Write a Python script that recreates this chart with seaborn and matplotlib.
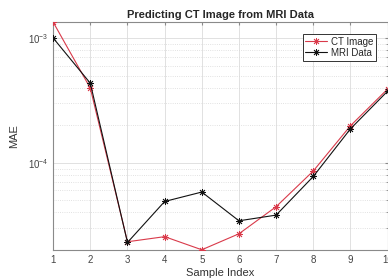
import seaborn as sns
import matplotlib.pyplot as plt
from matplotlib.ticker import LogLocator, NullFormatter
import pandas as pd

sample_index = [1, 2, 3, 4, 5, 6, 7, 8, 9, 10]
ct_image = [1.34e-3, 3.96e-4, 2.33e-5, 2.56e-5, 2.01e-5, 2.7e-5, 4.45e-5, 8.6e-5, 1.98e-4, 3.9e-4]
mri_data = [1.0e-3, 4.34e-4, 2.3e-5, 4.9e-5, 5.83e-5, 3.43e-5, 3.81e-5, 7.77e-5, 1.87e-4, 3.75e-4]

df = pd.DataFrame({'idx': sample_index * 2,
                   'mae': ct_image + mri_data,
                   'series': ['CT Image'] * 10 + ['MRI Data'] * 10})

sns.set_style('white')
plt.rcParams['font.family'] = ['Liberation Sans', 'DejaVu Sans']

fig = plt.figure(figsize=(3.88, 2.80), dpi=100)
ax = fig.add_axes([0.137, 0.107, 0.862, 0.814])

asterisk = (8, 2, 0)
sns.lineplot(data=df, x='idx', y='mae', hue='series', style='series',
             palette={'CT Image': '#d93a4a', 'MRI Data': '#111111'},
             markers={'CT Image': asterisk, 'MRI Data': asterisk}, dashes=False,
             markersize=5, markeredgewidth=0.6, linewidth=0.8, ax=ax, zorder=3)

# seaborn draws marker edges white, asterisks are edge-only
for line in ax.lines:
    line.set_markeredgecolor(line.get_color())
    line.set_markerfacecolor('none')

ax.set_yscale('log')
ax.set_xlim(1, 10)
ax.set_ylim(2.0e-5, 1.34e-3)
ax.set_xticks(sample_index)
ax.yaxis.set_major_locator(LogLocator(base=10))
ax.yaxis.set_minor_locator(LogLocator(base=10, subs=range(2, 10)))
ax.yaxis.set_minor_formatter(NullFormatter())

ax.grid(True, which='major', axis='x', color='#dcdcdc', linewidth=0.6)
ax.grid(True, which='major', axis='y', color='#dcdcdc', linewidth=0.6)
ax.grid(True, which='minor', axis='y', color='#d8d8d8', linewidth=0.6, linestyle=':')

for s in ax.spines.values():
    s.set_color('#8a8a8a')
    s.set_linewidth(0.8)
ax.tick_params(which='both', direction='in', colors='#8a8a8a', labelcolor='#444444',
               labelsize=7, top=True, right=True, length=2.5)
ax.tick_params(which='minor', length=1.5)

ax.set_title('Predicting CT Image from MRI Data', fontsize=8, fontweight='bold', pad=3)
ax.set_xlabel('Sample Index', fontsize=8, color='#333333', labelpad=2)
ax.set_ylabel('MAE', fontsize=8, color='#333333', labelpad=6)

leg = ax.legend(loc='upper right', bbox_to_anchor=(0.98, 0.97), fontsize=7, frameon=True,
                fancybox=False, edgecolor='#333333', framealpha=1, borderpad=0.3,
                labelspacing=0.1, handlelength=2.2, handletextpad=0.4, title=None)
leg.get_frame().set_linewidth(0.7)
for h in leg.legend_handles:
    h.set_markeredgecolor(h.get_color())
    h.set_markerfacecolor('none')
    h.set_marker(asterisk)
    h.set_markersize(5)
    h.set_markeredgewidth(0.6)

fig.savefig('out.png', dpi=100)
